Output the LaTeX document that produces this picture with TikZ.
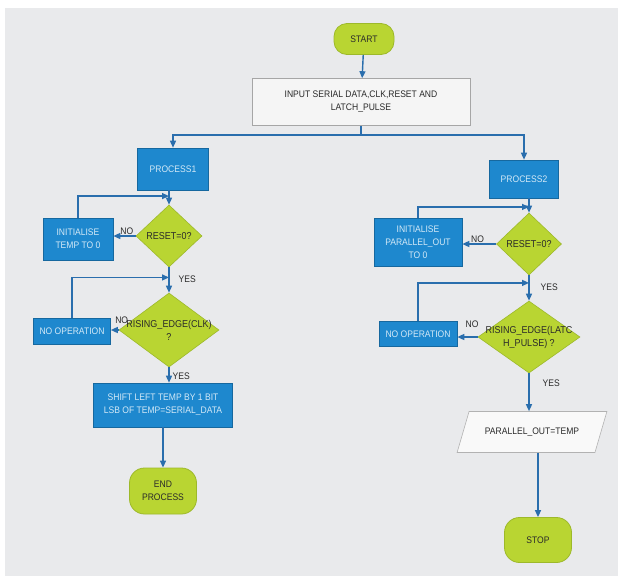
\documentclass[tikz,border=0pt]{standalone}
\usepackage{fontspec}
\setmainfont{Liberation Sans}[FakeStretch=0.9]
\usetikzlibrary{shapes,arrows.meta,positioning,calc}

\definecolor{paper}{HTML}{E9EAEC}
\definecolor{limefill}{HTML}{B9D532}
\definecolor{limeline}{HTML}{9DB92A}
\definecolor{boxblue}{HTML}{1E88CE}
\definecolor{boxline}{HTML}{16689F}
\definecolor{boxtext}{HTML}{D3E9F7}
\definecolor{flowblue}{HTML}{2A6EAD}
\definecolor{inkgray}{HTML}{2A2A2A}

\begin{document}
\begin{tikzpicture}[
    x=1pt, y=-1pt,
    every node/.style={font=\fontsize{9.5}{13}\selectfont, text=inkgray},
    terminal/.style={rectangle, rounded corners=13pt, draw=limeline, fill=limefill, line width=0.8pt, align=center},
    process/.style={rectangle, draw=boxline, fill=boxblue, line width=0.6pt, text=boxtext, align=center, inner sep=2pt},
    inputbox/.style={rectangle, draw=gray!70, fill=gray!8, line width=0.6pt, align=center},
    decision/.style={diamond, draw=limeline, fill=limefill, line width=0.6pt, inner sep=0pt},
    dlabel/.style={align=center, font=\fontsize{10}{13}\selectfont, inner sep=0pt},
    ioshape/.style={trapezium, trapezium left angle=59, trapezium right angle=121, trapezium stretches=true, draw=gray!60, fill=gray!5, line width=0.6pt, inner xsep=1pt},
    arrow/.style={-{Triangle[length=7pt,width=6pt]}, line width=1.4pt, draw=flowblue},
    flowlabel/.style={inner sep=1pt}
]

\useasboundingbox (0,0) rectangle (618,584);
\fill[white] (0,0) rectangle (618,584);
\fill[paper] (5,8) rectangle (618,576);

% top
\node[terminal, minimum width=60pt, minimum height=31pt] (start) at (364,39) {START};
\node[inputbox, minimum width=218pt, minimum height=47pt] (input) at (361,102) {INPUT SERIAL DATA,CLK,RESET AND\\LATCH\_PULSE};

% left side: shift register process
\node[process, minimum width=71pt, minimum height=42pt] (proc1) at (173,169) {PROCESS1};
\node[decision, minimum width=66pt, minimum height=62pt, label={[dlabel]center:RESET=0?}] (reset1) at (169,236) {};
\node[process, minimum width=70pt, minimum height=42pt] (init1) at (78,239) {INITIALISE\\TEMP TO 0};
\node[decision, minimum width=100pt, minimum height=74pt, label={[dlabel]center:RISING\_EDGE(CLK)\\?}] (edge1) at (169,330) {};
\node[process, minimum width=77pt, minimum height=26pt] (nop1) at (72,331) {NO OPERATION};
\node[process, minimum width=139pt, minimum height=44pt] (shift) at (163,405) {SHIFT LEFT TEMP BY 1 BIT\\LSB OF TEMP=SERIAL\_DATA};
\node[terminal, rounded corners=15pt, minimum width=67pt, minimum height=46pt] (endp) at (163,491) {END\\PROCESS};

% right side: latch process
\node[process, minimum width=69pt, minimum height=38pt] (proc2) at (524,179) {PROCESS2};
\node[decision, minimum width=65pt, minimum height=62pt, label={[dlabel]center:RESET=0?}] (reset2) at (529,244) {};
\node[process, minimum width=88pt, minimum height=48pt] (init2) at (418,242) {INITIALISE\\PARALLEL\_OUT\\TO 0};
\node[decision, minimum width=102pt, minimum height=72pt, label={[dlabel]center:RISING\_EDGE(LATC\\H\_PULSE) ?}] (edge2) at (529,337) {};
\node[process, minimum width=78pt, minimum height=25pt] (nop2) at (418,334) {NO OPERATION};
\node[ioshape, minimum width=150pt, minimum height=41pt] (parout) at (532,432) {PARALLEL\_OUT=TEMP};
\node[terminal, rounded corners=15pt, minimum width=67pt, minimum height=45pt] (stop) at (538,540) {STOP};

% connectors
\draw[arrow] (start) -- (input);
\coordinate (fork) at ($(input.south)+(0,9)$);
\draw[arrow] (input.south) -- (fork) -| (proc1.north);
\draw[arrow] (fork) -| (proc2.north);

\draw[arrow] (proc1.south -| reset1.north) -- (reset1.north);
\draw[arrow] (init1.north) |- ($(proc1.south -| reset1.north)!0.4!(reset1.north)$);
\draw[arrow] (reset1.west) -- node[flowlabel, above, pos=0.4]{NO} (reset1.west -| init1.east);
\draw[arrow] (reset1.south) -- node[flowlabel, right=8pt, pos=0.45]{YES} (edge1.north);
\draw[arrow] (nop1.north) |- ($(reset1.south)!0.4!(edge1.north)$);
\draw[arrow] (edge1.west) -- node[flowlabel, above=5pt, pos=0, xshift=3pt]{NO} (edge1.west -| nop1.east);
\draw[arrow] (edge1.south) -- node[flowlabel, right=2pt, pos=0.6]{YES} (edge1.south |- shift.north);
\draw[arrow] (shift) -- (endp);

\draw[arrow] (proc2.south -| reset2.north) -- (reset2.north);
\draw[arrow] (init2.north) |- ($(proc2.south -| reset2.north)!0.6!(reset2.north)$);
\draw[arrow] (reset2.west) -- node[flowlabel, above, pos=0.55]{NO} (reset2.west -| init2.east);
\draw[arrow] (reset2.south) -- node[flowlabel, right=10pt, pos=0.46]{YES} (edge2.north);
\draw[arrow] (nop2.north) |- ($(reset2.south)!0.3!(edge2.north)$);
\draw[arrow] (edge2.west) -- node[flowlabel, above=8pt, pos=0.28]{NO} (edge2.west -| nop2.east);
\draw[arrow] (edge2.south) -- node[flowlabel, right=12pt, pos=0.27]{YES} (edge2.south |- parout.north);
\draw[arrow] (parout.south -| stop.north) -- (stop.north);

\end{tikzpicture}
\end{document}
